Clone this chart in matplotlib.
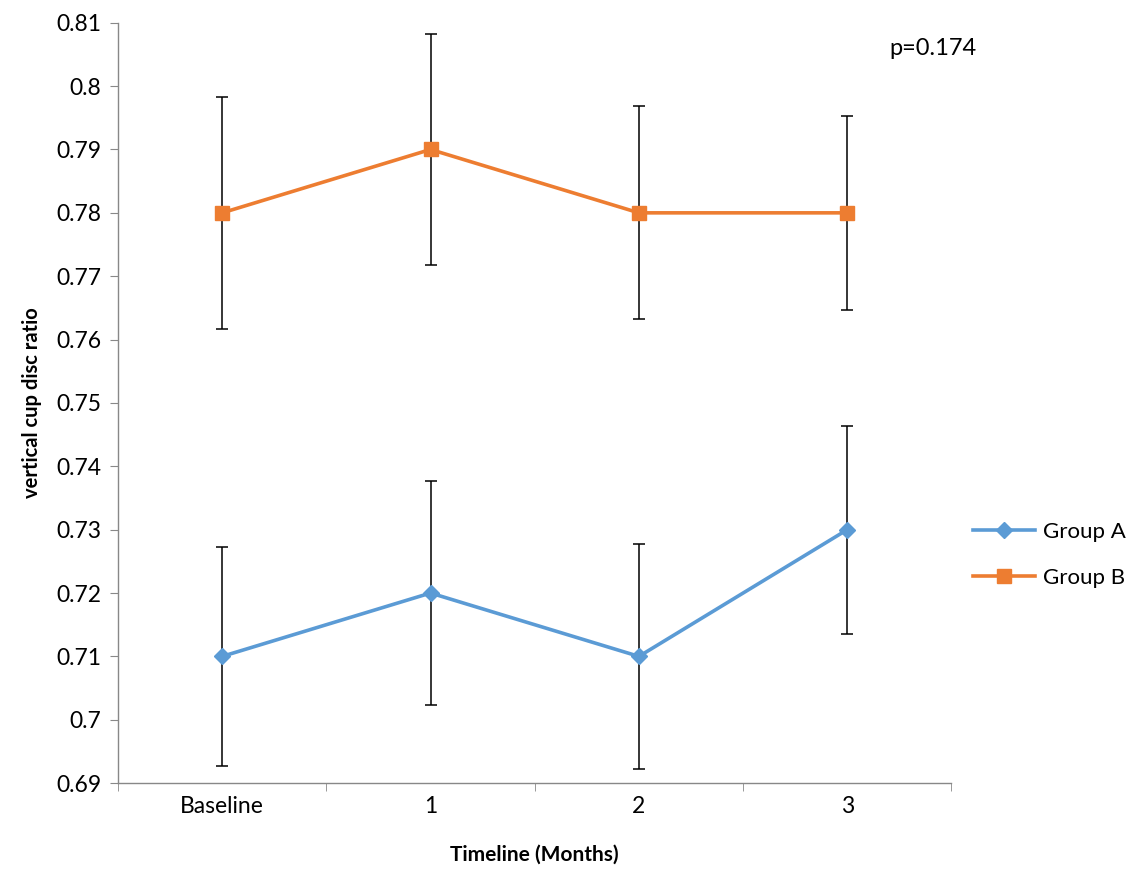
import numpy as np
import matplotlib
matplotlib.use("Agg")
import matplotlib.pyplot as plt

plt.rcParams['font.family'] = ['Lato', 'DejaVu Sans']

categories = ['Baseline', '1', '2', '3']
group_a = [0.71, 0.72, 0.71, 0.73]
group_a_err = [0.0173, 0.0177, 0.0177, 0.0164]
group_b = [0.78, 0.79, 0.78, 0.78]
group_b_err = [0.0183, 0.0182, 0.0168, 0.0153]

fig = plt.figure(figsize=(11.45, 8.75), dpi=100)
ax = fig.add_axes([0.103, 0.105, 0.728, 0.869])

x = np.arange(len(categories))
blue = '#5B9BD5'
orange = '#ED7D31'

ax.errorbar(x, group_a, yerr=group_a_err, fmt='none', ecolor='black',
            elinewidth=1.1, capsize=4.5, capthick=1.1, zorder=2)
ax.errorbar(x, group_b, yerr=group_b_err, fmt='none', ecolor='black',
            elinewidth=1.1, capsize=4.5, capthick=1.1, zorder=2)
ax.plot(x, group_a, color=blue, lw=2.6, marker='D', markersize=8.5,
        label='Group A', zorder=3)
ax.plot(x, group_b, color=orange, lw=2.6, marker='s', markersize=10,
        label='Group B', zorder=3)

ax.set_xlim(-0.5, 3.5)
ax.set_ylim(0.69, 0.81)
ax.set_yticks(np.arange(0.69, 0.8101, 0.01))
ax.set_yticklabels(['0.69', '0.7', '0.71', '0.72', '0.73', '0.74', '0.75',
                    '0.76', '0.77', '0.78', '0.79', '0.8', '0.81'])
ax.set_xticks(x)
ax.set_xticklabels(categories)
ax.set_xticks(np.arange(-0.5, 3.6, 1), minor=True)
ax.tick_params(axis='x', which='major', length=0, labelsize=16.5, pad=9)
ax.tick_params(axis='x', which='minor', length=6, color='#888888', direction='out')
ax.tick_params(axis='y', length=6, color='#888888', labelsize=16.5, pad=6)

for s in ['top', 'right']:
    ax.spines[s].set_visible(False)
for s in ['left', 'bottom']:
    ax.spines[s].set_color('#888888')
    ax.spines[s].set_linewidth(1)

ax.set_ylabel('vertical cup disc ratio', fontsize=14.5, fontweight='bold', labelpad=10)
ax.set_xlabel('Timeline (Months)', fontsize=15, fontweight='bold', labelpad=20)

fig.text(0.777, 0.937, 'p=0.174', fontsize=17)

ax.legend(loc='center left', bbox_to_anchor=(1.015, 0.30), frameon=False,
          fontsize=16, handlelength=2.8, handletextpad=0.35, labelspacing=1.15,
          borderaxespad=0)

fig.savefig('out.png', dpi=100)
